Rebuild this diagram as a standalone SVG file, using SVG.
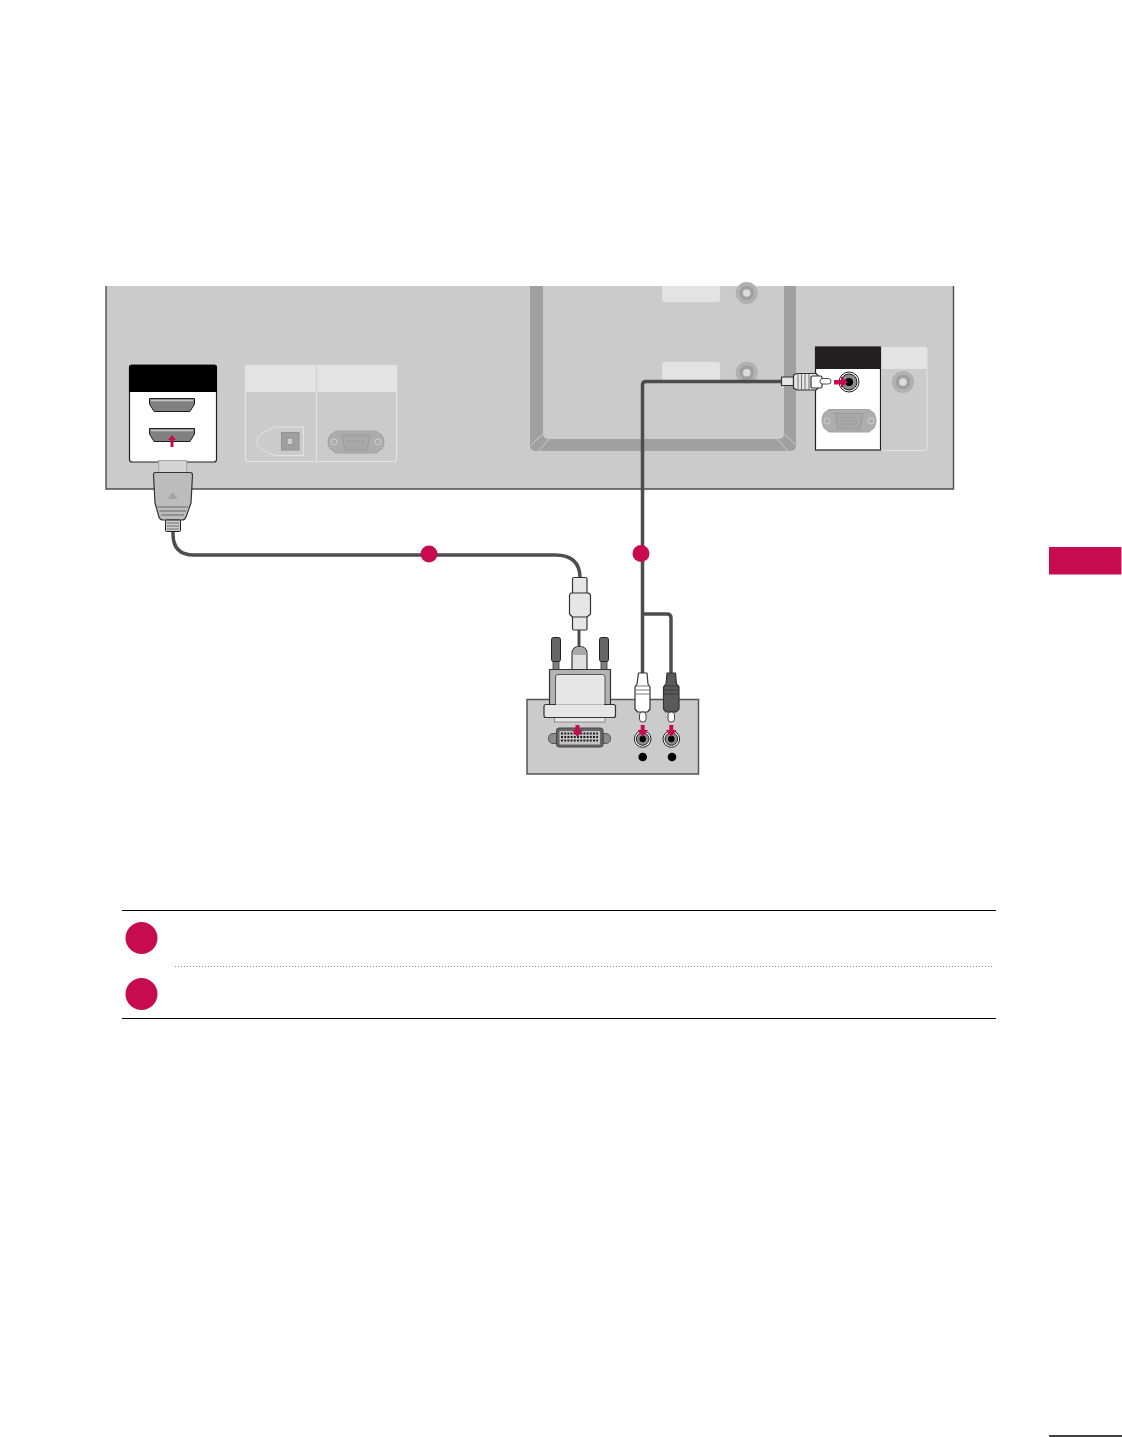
<svg xmlns="http://www.w3.org/2000/svg" width="1122" height="1437" viewBox="0 0 1122 1437">
<defs>
<style>
.cable{fill:none;stroke:#4d4d4d;stroke-width:3.500;stroke-linejoin:round}
.plug{stroke:#333;stroke-width:1.200;stroke-linejoin:round}
.faded{fill:#adadad;stroke:#a3a3a3;stroke-width:1}
.fadedin{fill:#a8a8a8;stroke:#999;stroke-width:1}
.arrow{fill:#c60c4f}
.mark{fill:#c60c4f}
.lbl{fill:#e3e3e3}
.rib{stroke:#555;stroke-width:.8;fill:none}
.pin{stroke:#231f20;stroke-width:2;stroke-dasharray:2 1.200;fill:none}
</style>
<g id="rca-socket-dark"><circle r="8.300" fill="#fff" stroke="#231f20" stroke-width="1"/><circle r="6.300" fill="#8c8c8c" stroke="#231f20" stroke-width="1"/><circle r="3.200" fill="#000"/></g>
<g id="faded-rca"><circle r="11" fill="#b0b0b0"/><circle r="8" fill="#a0a0a0" stroke="#b8b8b8" stroke-width="1"/><circle r="3.800" fill="#dcdcdc"/></g>
</defs>
<rect width="1122" height="1437" fill="#fff"/>

<g id="tv-panel">
<path d="M106 286V489H953.500V286Z" fill="#cbcbcb"/>
<path d="M106 286V489H953.500V286" fill="none" stroke="#4d4d4d" stroke-width="1.400"/>
</g>

<g id="tv-recess">
<path d="M530 286H543V433Q543 439 549 439H778Q784 439 784 433V286H796V445Q796 451 790 451H536Q530 451 530 445Z" fill="#a0a0a0"/>
<path d="M531 445L543 434M796 445L784 434M539 451L549 439M788 451L777 439" stroke="#d5d5d5" stroke-width=".8" fill="none"/>
<path d="M662 286H720V299Q720 302 717 302H665Q662 302 662 299Z" class="lbl"/>
<path d="M662 365Q662 362 665 362H717Q720 362 720 365V380H662Z" class="lbl"/>
<use href="#faded-rca" x="746.700" y="293"/>
<use href="#faded-rca" x="746.700" y="372.700"/>
</g>

<g id="hdmi-panel">
<rect x="129.500" y="365" width="87" height="97" rx="2.500" fill="#fff" stroke="#231f20" stroke-width="1.200"/>
<path d="M129 392V367.500Q129 365 131.500 365H214.500Q217 365 217 367.500V392Z" fill="#000"/>
<path id="hdmi-port-1" d="M149.500 398.500H194.500V404L190 411.500H154L149.500 404Z" fill="#808080" stroke="#231f20" stroke-width="1"/>
<path id="hdmi-port-2" d="M149.500 428.500H194.500V434L190 441.500H154L149.500 434Z" fill="#808080" stroke="#231f20" stroke-width="1"/>
<path d="M151 400.500H193M151 430.500H193" stroke="#c4c4c4" stroke-width="1.500"/>
<path class="arrow" d="M172 435L176 440H173.500V447H170.500V440H168Z"/>
</g>

<g id="optical-rgb-panel">
<rect x="245.500" y="365.500" width="151" height="96" rx="2.500" fill="#cbcbcb" stroke="#e3e3e3" stroke-width="1.200"/>
<path d="M245 392V368Q245 365 248 365H394Q397 365 397 368V392Z" class="lbl"/>
<path d="M316.500 365.500V392" stroke="#cfcfcf" stroke-width="1"/>
<path d="M316.500 392V461.500" stroke="#e3e3e3" stroke-width="1"/>
<path d="M303.500 427V455.500H275L261 449.500Q257 447 257 441.500Q257 436 261 433.500L275 427Z" fill="none" stroke="#e3e3e3" stroke-width="1"/>
<rect x="281.500" y="432.500" width="17.500" height="17.500" fill="#a0a0a0" stroke="#909090"/>
<rect x="287" y="438" width="6" height="6.500" fill="#cbcbcb" stroke="#888" stroke-width=".8"/>
<path class="faded" d="M336 431H376L382 435Q386 442 382 449L376 453H336L330 449Q326 442 330 435Z"/>
<path class="fadedin" d="M342 435H370L367 450H345Z"/>
<circle cx="334" cy="442" r="3" fill="none" stroke="#d0d0d0"/>
<circle cx="378" cy="442" r="3" fill="none" stroke="#d0d0d0"/>
<path d="M347 441H365" stroke="#808080" stroke-width=".8" stroke-dasharray="1 2"/>
</g>

<g id="rgb-audio-panel">
<rect x="881" y="347.500" width="46" height="103" rx="2" fill="#cbcbcb" stroke="#e3e3e3" stroke-width="1"/>
<path d="M881 369V347H925Q927 347 927 349V369Z" class="lbl"/>
<use href="#faded-rca" x="903" y="382"/>
<rect x="815.500" y="347" width="65" height="103" fill="#fff" stroke="#231f20" stroke-width="1.200"/>
<rect x="815" y="347" width="65.500" height="22" fill="#231f20"/>
<path class="faded" d="M829 409.500H869L874 413Q878 421 874 428L869 432H829L824 428Q820 421 824 413Z"/>
<path class="fadedin" d="M835 413.500H863L860 429H838Z"/>
<circle cx="827" cy="421" r="3" fill="none" stroke="#d0d0d0"/>
<circle cx="871" cy="421" r="3" fill="none" stroke="#d0d0d0"/>
<path d="M840 418H858M841 421H857M842 424H856" stroke="#808080" stroke-width=".8" stroke-dasharray="1 2"/>
<g id="rca-socket-tv"><circle cx="849" cy="382" r="10" fill="#fff" stroke="#231f20" stroke-width="1"/><circle cx="849" cy="382" r="8" fill="#8c8c8c" stroke="#231f20" stroke-width="1"/><circle cx="849" cy="382" r="4" fill="#000"/></g>
</g>

<g id="connectors">
<path class="cable" d="M173 528V534Q173 555 194 555H555Q580 555 580 578"/>
<path class="cable" d="M782 381.500H646Q642.500 381.500 642.500 385V675"/>
<path class="cable" d="M642.500 614H667Q671 614 671 618V675"/>
<path class="cable" d="M579 630V650" style="stroke-width:3"/>
</g>

<g id="hdmi-plug">
<rect x="158.700" y="460.500" width="28" height="13" fill="#d4d4d4" stroke="#a3a3a3"/>
<path class="plug" fill="#bcbcbc" d="M155 472.500H190Q192.500 472.500 192.500 475L191 503L186 517Q185 520 182 520H163Q160 520 159 517L155 503L153.500 475Q153.500 472.500 155 472.500Z"/>
<path d="M172.700 492.500L178 499H167.500Z" fill="#a3a3a3"/>
<path d="M157.500 507H188M159.500 511H186M161.500 515H184" stroke="#666" stroke-width="1" fill="none"/>
<rect x="165.500" y="520" width="15" height="11.500" rx="1" fill="#ccc" stroke="#231f20" stroke-width="1"/>
<path d="M167 523H179M167 526H179M167 529H179" stroke="#555" stroke-width=".8"/>
</g>

<g id="rca-plug-tv">
<path class="plug" fill="#e6e6e6" d="M781.500 377H793.500V385.500H781.500Z"/>
<path class="plug" fill="#e6e6e6" d="M793.500 375L797 373.500H816L818 375.500V388L816 390H797L793.500 388Z"/>
<path d="M798 374V390M801.500 374V390M805 374V390M809 374V390" stroke="#555" stroke-width=".8"/>
<rect class="plug" x="811" y="376" width="11" height="12" rx="1.500" fill="#fff"/>
<rect x="820" y="378.500" width="11" height="5.500" rx="2.700" fill="#fff" stroke="#231f20" stroke-width=".8"/>
<path class="arrow" d="M848 382L841 376.500V380H834V384.500H841V387.500Z"/>
</g>

<g id="dvi-source-panel">
<rect x="527" y="699.500" width="171.500" height="74.500" fill="#cbcbcb" stroke="#555" stroke-width="1.500"/>
<path d="M548.500 738.500Q548.500 734 553 733.500H557V743.500H553Q548.500 743 548.500 738.500ZM610.500 738.500Q610.500 734 606 733.500H603V743.500H606Q610.500 743 610.500 738.500Z" fill="#8c8c8c" stroke="#555" stroke-width="1"/>
<rect x="556.500" y="728" width="46.500" height="19" rx="2.500" fill="#666" stroke="#444" stroke-width="1"/>
<rect x="559.500" y="731" width="40.500" height="13.500" rx="1" fill="#c4c4c4"/>
<path class="pin" d="M561 733.500H598M561 737H598M561 740.500H598"/>
<use href="#rca-socket-dark" x="642.700" y="739"/>
<use href="#rca-socket-dark" x="671.300" y="739"/>
<circle cx="642.700" cy="757" r="4.300" fill="#000"/>
<circle cx="672" cy="757" r="4.300" fill="#000"/>
</g>

<g id="dvi-plug">
<rect x="553" y="659" width="6" height="11" fill="#808080" stroke="#333" stroke-width=".8"/>
<rect x="601" y="659" width="6" height="11" fill="#808080" stroke="#333" stroke-width=".8"/>
<rect x="551.500" y="637.500" width="9" height="24" rx="2" fill="#666" stroke="#231f20" stroke-width="1"/>
<rect x="599.500" y="637.500" width="9" height="24" rx="2" fill="#666" stroke="#231f20" stroke-width="1"/>
<path class="plug" fill="#e0e0e0" d="M572 669.500V654Q572 646.500 579.500 646.500Q587 646.500 587 654V669.500Z"/>
<path d="M572.500 654Q572.500 647 579.500 647Q586.500 647 586.500 654V655H572.500Z" fill="#a8a8a8"/>
<path class="plug" fill="#b3b3b3" d="M549.500 669.500H610.500V706H549.500Z"/>
<path d="M555.500 677Q555.500 674.500 558 674.500H602.500Q605 674.500 605 677V706H555.500Z" fill="#e6e6e6" stroke="#555" stroke-width="1"/>
<rect x="554.500" y="716" width="50.500" height="6" fill="#e6e6e6" stroke="#777" stroke-width=".8"/>
<rect class="plug" x="544" y="704.500" width="71.500" height="13" rx="2" fill="#e6e6e6"/>
<path d="M556 705H604" stroke="#e6e6e6" stroke-width="1.600"/>
<path class="arrow" d="M577.500 737L583 730H579.500V725H575.500V730H572Z"/>
</g>

<g id="dvi-audio-plug">
<rect class="plug" x="572.500" y="577.500" width="14.500" height="16" rx="1.500" fill="#e6e6e6"/>
<rect class="plug" x="572.500" y="616" width="14.500" height="14" rx="1.500" fill="#e6e6e6"/>
<path class="plug" fill="#e6e6e6" d="M571 593H588.500L590.500 595V614L587 617H572.500L569.500 614V595Z"/>
</g>

<g id="rca-plug-white">
<path class="plug" fill="#fff" d="M638.500 673H647L648 684L650 687V709L647.500 712H637.500L635 709V687L637 684Z"/>
<path class="rib" d="M635.500 686H649.500M635.500 690H649.500M635.500 694H649.500"/>
<rect x="639.500" y="712" width="6.500" height="10" rx="3" fill="#fff" stroke="#231f20" stroke-width=".8"/>
<path class="arrow" d="M642.700 737L648 730H644.700V725H640.700V730H637.500Z"/>
</g>

<g id="rca-plug-dark">
<path class="plug" fill="#5a5a5a" d="M667 673H675.500L676.500 684L679 687V709L676 712H666L663.500 709V687L666 684Z"/>
<path d="M664 686H678.500M664 690H678.500M664 694H678.500" stroke="#333" stroke-width=".8"/>
<rect x="668" y="712" width="6.500" height="10" rx="3" fill="#fff" stroke="#231f20" stroke-width=".8"/>
<path class="arrow" d="M671.300 737L676.500 730H673.300V725H669.300V730H666Z"/>
</g>

<g id="marker-cable-1"><circle class="mark" cx="429" cy="554" r="8.500"/></g>
<g id="marker-cable-2"><circle class="mark" cx="641" cy="553.500" r="8.500"/></g>

<g id="legend">
<path d="M122 910.500H996M122 1018.500H996" stroke="#000" stroke-width="1"/>
<path d="M175 966.500H993" stroke="#888" stroke-width="1" stroke-dasharray="1 2"/>
<circle class="mark" cx="141.500" cy="938" r="16"/>
<circle class="mark" cx="141.500" cy="994" r="16"/>
</g>

<g id="side-tab"><rect x="1049" y="547" width="72" height="27.500" fill="#c60c4f"/><rect x="1121" y="547" width="1" height="27.500" fill="#ea8fb0"/></g>
<g id="page-rule"><path d="M1049 1436H1122" stroke="#000" stroke-width="1.300"/></g>
</svg>
